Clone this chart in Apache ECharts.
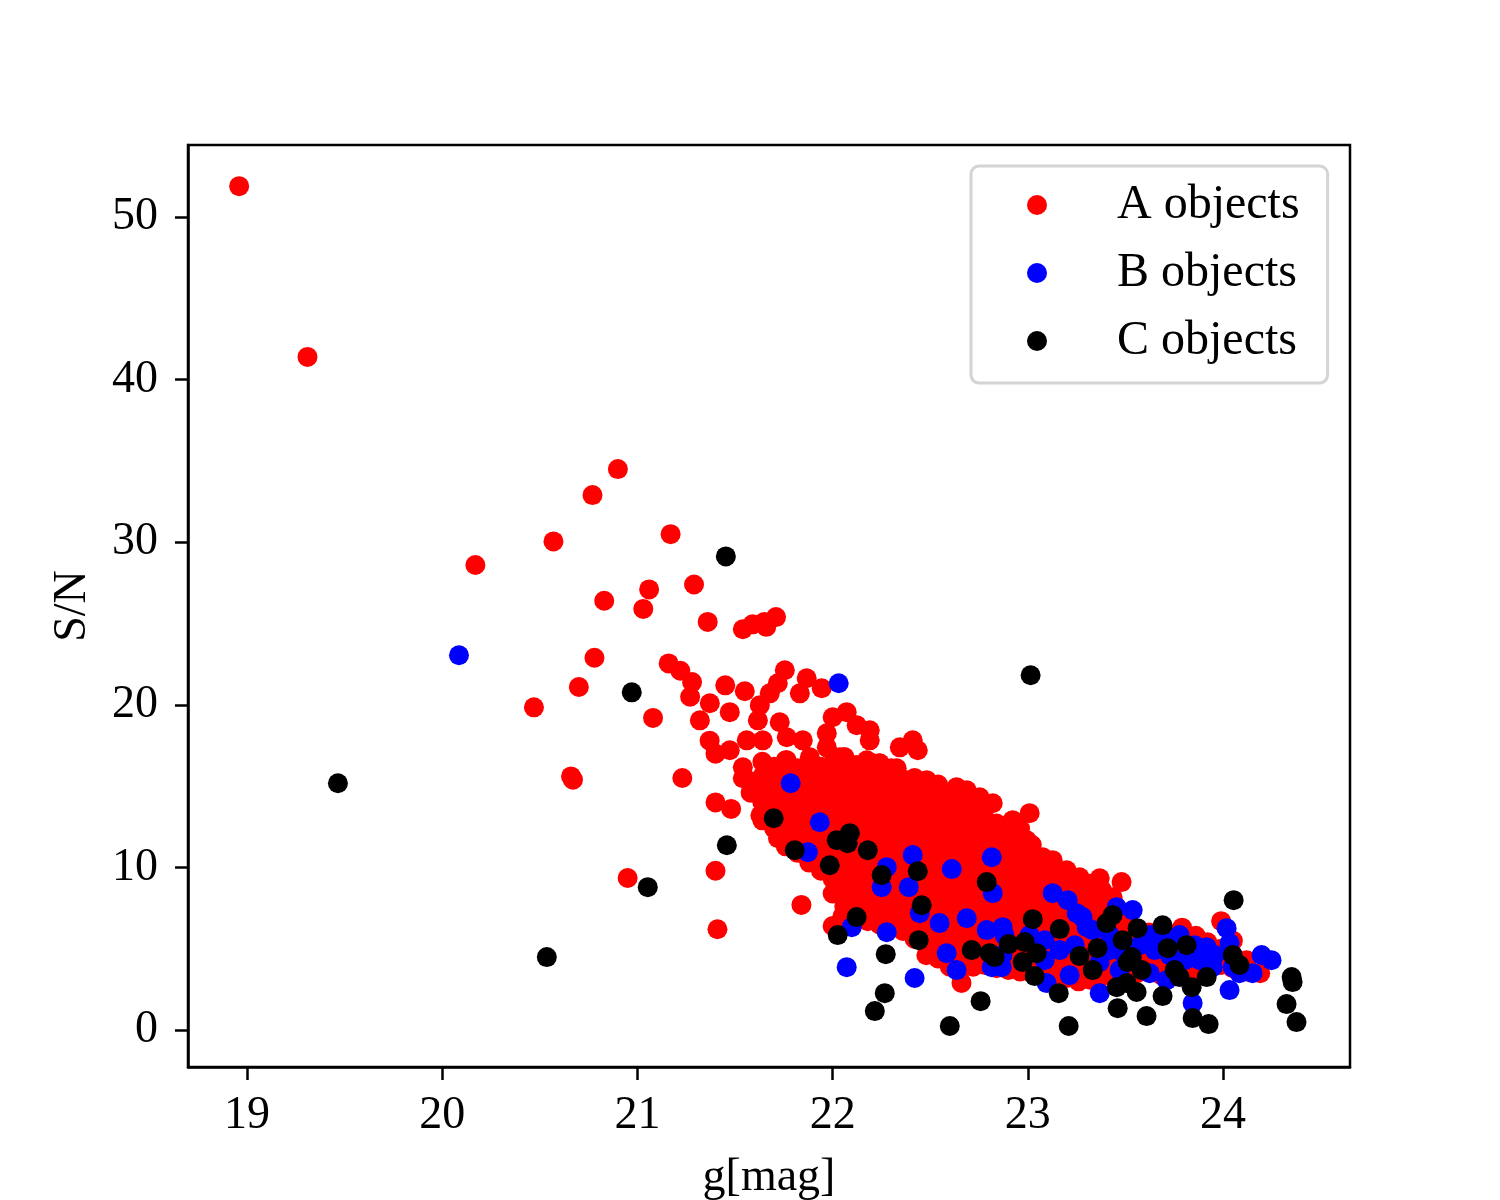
<!DOCTYPE html>
<html>
<head>
<meta charset="utf-8">
<title>S/N vs g</title>
<script src="https://cdn.jsdelivr.net/npm/echarts/dist/echarts.min.js"></script>
<style>
  html, body { margin: 0; padding: 0; background: #fff; }
  #chart { width: 1500px; height: 1200px; }
</style>
</head>
<body>
<div id="chart"></div>
<script>
// axis ticks
var xTicks = [19, 20, 21, 22, 23, 24];
var yTicks = [0, 10, 20, 30, 40, 50];
var seriesNames = ['A objects', 'B objects', 'C objects'];

// A objects: [g, S/N]
var aObjects = [
  [18.96,51.9],[19.31,41.4],[20.90,34.5],[20.77,32.9],[20.57,30.05],[20.17,28.6],[21.17,30.5],
  [21.29,27.4],[21.06,27.1],[20.83,26.4],[21.03,25.9],[21.36,25.1],[20.78,22.9],[20.70,21.1],
  [20.47,19.85],[21.16,22.55],[21.22,22.1],[21.28,21.4],[21.27,20.5],[21.08,19.2],[20.66,15.6],
  [20.67,15.4],[21.23,15.5],[20.95,9.35],[21.40,9.8],[21.41,6.2],[21.40,14.0],[21.48,13.6],
  [21.37,17.8],[21.40,17.0],[21.45,21.2],[21.54,24.65],[21.59,24.95],[21.65,25.1],[21.71,25.4],
  [21.66,24.8],[21.84,7.7],[21.72,11.8],[21.63,13.2],
  [21.755,22.13],[21.867,21.64],[21.944,21.02],[21.55,20.84],[21.371,20.1],[21.473,19.55],
  [21.32,19.05],[21.627,19.98],[21.678,20.71],[21.719,21.33],[21.832,20.71],[21.617,19.05],
  [21.729,18.93],[22.0,19.24],[22.072,19.55],[22.123,18.75],[22.19,18.44],[22.19,17.82],
  [22.344,17.39],[22.41,17.82],[22.436,17.21],[21.473,17.21],[21.56,17.82],[21.642,17.82],
  [21.765,18.01],[21.847,17.82],[21.97,18.25],[21.97,17.39],[22.036,16.78],[22.175,16.59],
  [22.205,16.41],[22.328,16.1],[21.54,16.16],[21.54,15.49],[21.663,15.55],[21.765,16.59],
  [21.883,16.78],[21.883,15.55],[22.0,15.8],[22.088,15.55],[22.19,15.18],[22.277,15.37],
  [22.38,15.37],[22.482,15.37],[22.635,14.94],[22.687,14.75],[22.753,14.32],[22.82,13.95],
  [23.009,13.34],[22.922,12.91],[21.693,14.14],[21.796,14.32],[21.918,14.57],[22.036,14.57],
  [22.139,14.32],[22.205,13.71],[22.292,14.32],[22.41,14.14],[22.513,14.14],[22.6,13.71],
  [22.687,13.34],[22.769,13.09],[22.856,12.48],[22.241,16.41],[22.666,14.63],[22.994,11.68],
  [23.076,10.63],[23.127,10.45],[23.199,9.83],[23.265,9.4],[23.368,9.34],[23.48,9.1],[23.434,8.17],
  [22.0,6.4],[22.05,7.0],
  [21.58,14.6],[21.58,15.3],
  [21.64,12.9],[21.64,14.0],[21.64,14.8],[21.64,15.6],[21.64,16.5],
  [21.70,12.4],[21.70,13.5],[21.70,14.6],[21.70,15.4],[21.70,16.2],
  [21.76,11.3],[21.76,12.2],[21.76,13.1],[21.76,14.0],[21.76,14.9],[21.76,15.8],[21.76,16.6],
  [21.82,10.9],[21.82,11.9],[21.82,12.8],[21.82,13.7],[21.82,14.6],[21.82,15.3],[21.82,16.1],
  [21.88,10.3],[21.88,11.2],[21.88,12.1],[21.88,13.0],[21.88,13.9],[21.88,14.9],[21.88,16.0],
  [21.94,9.8],[21.94,10.8],[21.94,11.7],[21.94,12.6],[21.94,13.5],[21.94,14.3],[21.94,15.2],[21.94,16.2],
  [22.00,8.4],[22.00,9.3],[22.00,10.3],[22.00,11.2],[22.00,12.1],[22.00,13.0],[22.00,13.9],[22.00,14.8],[22.00,15.6],[22.00,16.4],
  [22.06,7.6],[22.06,8.6],[22.06,9.7],[22.06,10.6],[22.06,11.5],[22.06,12.4],[22.06,13.3],[22.06,14.2],[22.06,15.0],[22.06,15.9],[22.06,16.8],
  [22.12,7.2],[22.12,8.1],[22.12,9.1],[22.12,10.1],[22.12,11.0],[22.12,11.9],[22.12,12.8],[22.12,13.7],[22.12,14.6],[22.12,15.5],[22.12,16.3],
  [22.18,6.7],[22.18,7.6],[22.18,8.6],[22.18,9.5],[22.18,10.5],[22.18,11.4],[22.18,12.3],[22.18,13.2],[22.18,14.1],[22.18,15.0],[22.18,15.9],
  [22.24,6.5],[22.24,7.4],[22.24,8.3],[22.24,9.2],[22.24,10.2],[22.24,11.1],[22.24,12.0],[22.24,12.9],[22.24,13.8],[22.24,14.7],[22.24,15.6],[22.24,16.4],
  [22.30,6.3],[22.30,7.2],[22.30,8.1],[22.30,9.0],[22.30,9.9],[22.30,10.8],[22.30,11.7],[22.30,12.6],[22.30,13.5],[22.30,14.4],[22.30,15.3],[22.30,16.1],
  [22.36,6.1],[22.36,6.9],[22.36,7.9],[22.36,8.8],[22.36,9.7],[22.36,10.6],[22.36,11.5],[22.36,12.4],[22.36,13.3],[22.36,14.2],[22.36,15.0],
  [22.42,5.6],[22.42,6.5],[22.42,7.5],[22.42,8.4],[22.42,9.3],[22.42,10.2],[22.42,11.1],[22.42,12.0],[22.42,12.9],[22.42,13.8],[22.42,14.7],[22.42,15.5],
  [22.48,4.6],[22.48,5.5],[22.48,6.4],[22.48,7.3],[22.48,8.2],[22.48,9.1],[22.48,10.0],[22.48,10.9],[22.48,11.8],[22.48,12.7],[22.48,13.6],[22.48,14.5],[22.48,15.2],
  [22.54,4.4],[22.54,5.3],[22.54,6.2],[22.54,7.1],[22.54,8.0],[22.54,8.9],[22.54,9.8],[22.54,10.7],[22.54,11.6],[22.54,12.5],[22.54,13.4],[22.54,14.3],[22.54,15.1],
  [22.60,3.9],[22.60,4.8],[22.60,5.7],[22.60,6.6],[22.60,7.5],[22.60,8.4],[22.60,9.3],[22.60,10.2],[22.60,11.1],[22.60,12.0],[22.60,12.9],[22.60,13.8],[22.60,14.6],
  [22.66,2.9],[22.66,3.8],[22.66,4.7],[22.66,5.6],[22.66,6.5],[22.66,7.4],[22.66,8.3],[22.66,9.2],[22.66,10.1],[22.66,11.0],[22.66,11.9],[22.66,12.8],[22.66,13.7],[22.66,14.4],
  [22.72,3.9],[22.72,4.8],[22.72,5.7],[22.72,6.6],[22.72,7.5],[22.72,8.4],[22.72,9.3],[22.72,10.2],[22.72,11.1],[22.72,12.0],[22.72,12.9],[22.72,13.8],
  [22.78,4.0],[22.78,4.9],[22.78,5.8],[22.78,6.7],[22.78,7.6],[22.78,8.5],[22.78,9.4],[22.78,10.3],[22.78,11.2],[22.78,12.1],[22.78,13.0],[22.78,13.7],
  [22.84,3.8],[22.84,4.7],[22.84,5.6],[22.84,6.5],[22.84,7.4],[22.84,8.3],[22.84,9.2],[22.84,10.1],[22.84,11.0],[22.84,11.9],[22.84,12.7],
  [22.90,3.7],[22.90,4.6],[22.90,5.5],[22.90,6.4],[22.90,7.3],[22.90,8.2],[22.90,9.1],[22.90,10.0],[22.90,10.9],[22.90,11.8],[22.90,12.6],
  [22.96,3.6],[22.96,4.5],[22.96,5.4],[22.96,6.3],[22.96,7.2],[22.96,8.1],[22.96,9.0],[22.96,9.9],[22.96,10.8],[22.96,11.7],[22.96,12.4],
  [23.02,3.5],[23.02,4.4],[23.02,5.3],[23.02,6.2],[23.02,7.1],[23.02,8.0],[23.02,8.9],[23.02,9.8],[23.02,10.6],[23.02,11.4],
  [23.08,3.6],[23.08,4.5],[23.08,5.4],[23.08,6.3],[23.08,7.2],[23.08,8.1],[23.08,9.0],[23.08,9.9],[23.08,10.4],
  [23.14,3.4],[23.14,4.3],[23.14,5.2],[23.14,6.1],[23.14,7.0],[23.14,7.9],[23.14,8.8],[23.14,9.7],
  [23.20,3.2],[23.20,4.1],[23.20,5.0],[23.20,5.9],[23.20,6.8],[23.20,7.7],[23.20,8.6],[23.20,9.5],
  [23.26,3.0],[23.26,3.9],[23.26,4.8],[23.26,5.7],[23.26,6.6],[23.26,7.5],[23.26,8.4],[23.26,9.2],
  [23.32,3.1],[23.32,4.0],[23.32,4.9],[23.32,5.8],[23.32,6.7],[23.32,7.6],[23.32,8.5],[23.32,9.0],
  [23.38,3.3],[23.38,4.2],[23.38,5.1],[23.38,6.0],[23.38,6.9],[23.38,7.8],[23.38,8.6],
  [23.44,3.4],[23.44,4.3],[23.44,5.2],[23.44,6.1],[23.44,7.0],[23.44,7.8],
  [23.50,3.2],[23.50,4.1],[23.50,5.0],[23.50,5.9],[23.50,6.7],
  [23.56,3.5],[23.56,4.4],[23.56,5.3],[23.56,6.2],
  [23.62,3.6],[23.62,4.5],[23.62,5.4],[23.62,6.0],
  [23.68,3.4],[23.68,4.3],[23.68,5.2],[23.68,5.9],
  [23.74,3.3],[23.74,4.2],[23.74,5.1],[23.74,5.8],
  [23.79,4.0],[23.79,5.0],[23.79,6.3],
  [23.86,3.5],[23.86,4.4],[23.86,5.3],[23.86,5.8],
  [23.92,3.6],[23.92,4.5],[23.92,5.4],
  [23.99,4.0],[23.99,5.0],[23.99,6.7],
  [24.05,3.8],[24.05,4.6],[24.05,5.5],
  [24.12,3.6],[24.12,4.3],
  [24.19,3.5]
];

// B objects: [g, S/N]
var bObjects = [
  [20.086,23.05],[22.031,21.33],[21.785,15.18],[21.934,12.78],[21.873,10.94],[22.277,10.02],
  [22.251,8.79],[22.41,10.76],[22.61,9.9],[22.815,10.63],[22.82,8.42],[22.39,8.79],[22.446,7.19],
  [22.098,6.33],[22.277,6.02],[22.548,6.58],[22.687,6.88],[22.072,3.87],[22.42,3.2],[22.584,4.73],
  [22.635,3.69],[22.789,6.15],[22.871,6.33],[22.815,3.87],[23.096,2.89],[23.214,3.38],[23.127,8.42],
  [23.204,7.99],[23.25,7.19],[23.301,6.33],[23.455,7.56],[23.537,7.38],[23.28,6.95],[23.332,6.15],
  [24.018,6.27],[24.033,5.35],[24.197,4.61],[24.248,4.3],[24.151,3.5],[24.033,2.46],[23.916,5.1],
  [23.624,3.5],[23.711,3.07],[23.946,3.87],[24.049,3.87],[24.084,3.5],[23.368,2.27],[23.844,1.66],
  [22.866,3.87],[23.42,4.92],[23.496,4.61],[23.573,5.22],[23.65,4.92],[23.726,4.61],[23.803,4.3],
  [23.88,4.3],[23.957,4.61],[23.368,4.18],[23.47,3.69],[23.163,4.92],[23.24,5.22],[23.086,4.3],
  [23.624,5.84],[23.7,5.53],[23.777,5.84],[23.854,5.22],[23.009,5.84],[23.086,5.53],[23.419,5.84],
  [22.88,5.84],[22.87,4.61]
];

// C objects: [g, S/N]
var cObjects = [
  [19.466,15.18],[20.536,4.49],[20.971,20.77],[21.053,8.79],[21.453,29.13],[21.458,11.37],
  [23.014,21.82],[21.698,13.03],[24.054,7.99],[21.806,11.06],[22.021,11.68],[22.088,12.11],
  [22.077,11.49],[22.18,11.06],[21.985,10.14],[22.251,9.53],[22.436,9.77],[22.456,7.68],
  [22.789,9.1],[22.123,6.95],[22.026,5.84],[22.272,4.67],[22.216,1.17],[22.267,2.27],
  [22.441,5.53],[22.6,0.25],[22.758,1.78],[22.712,4.92],[22.804,4.73],[22.83,4.49],[22.902,5.29],
  [22.984,5.41],[23.025,6.82],[23.045,4.73],[22.973,4.18],[23.035,3.32],[23.158,2.27],
  [23.163,6.21],[23.209,0.25],[23.265,4.55],[23.332,3.69],[23.357,5.04],[23.434,7.07],
  [23.403,6.58],[23.562,6.27],[23.69,6.45],[23.485,5.53],[23.532,4.49],[23.511,4.18],
  [23.583,3.69],[23.455,2.64],[23.506,2.89],[23.557,2.34],[23.46,1.35],[23.608,0.86],
  [23.69,2.09],[23.752,3.69],[23.777,3.26],[23.839,2.64],[23.916,3.26],[23.844,0.74],
  [23.926,0.37],[23.813,5.22],[23.716,5.04],[24.049,4.61],[24.084,4.0],[24.351,3.26],
  [24.356,2.95],[24.325,1.6],[24.376,0.49]
];

var font = 'Liberation Serif';
var chart = echarts.init(document.getElementById('chart'), null, { renderer: 'canvas' });

function axisCommon(ticks) {
  return {
    type: 'value',
    splitLine: { show: false },
    axisLine: { show: true, onZero: false, lineStyle: { color: '#000', width: 2.5 } },
    axisTick: { show: true, inside: false, length: 13, customValues: ticks,
                lineStyle: { color: '#000', width: 2.5 } },
    axisLabel: { customValues: ticks, color: '#000', fontFamily: font, fontSize: 46 },
    nameLocation: 'middle',
    nameTextStyle: { color: '#000', fontFamily: font, fontSize: 46 }
  };
}

var xAxis = axisCommon(xTicks);
xAxis.min = 18.698;
xAxis.max = 24.65;
xAxis.name = 'g[mag]';
xAxis.nameGap = 88;
xAxis.axisLabel.margin = 26;

var yAxis = axisCommon(yTicks);
yAxis.min = -2.27;
yAxis.max = 54.43;
yAxis.name = 'S/N';
yAxis.nameGap = 92;
yAxis.axisLabel.margin = 30;

var colors = ['#ff0000', '#0000ff', '#000000'];
var datasets = [aObjects, bObjects, cObjects];

chart.setOption({
  animation: false,
  backgroundColor: '#fff',
  grid: { left: 188, right: 150, top: 145, bottom: 133, show: true,
          outerBoundsMode: 'none', containLabel: false,
          borderColor: '#000', borderWidth: 2.5, backgroundColor: 'transparent' },
  xAxis: xAxis,
  yAxis: yAxis,
  legend: {
    data: seriesNames,
    orient: 'vertical',
    left: 971,
    top: 166,
    icon: 'circle',
    itemWidth: 20,
    itemHeight: 20,
    itemGap: 18,
    padding: [14, 28, 17, 56],
    backgroundColor: '#fff',
    borderColor: '#d4d4d4',
    borderWidth: 3,
    borderRadius: 8,
    textStyle: { color: '#000', fontFamily: font, fontSize: 48, lineHeight: 50,
                 padding: [0, 0, 0, 65] }
  },
  series: seriesNames.map(function (name, i) {
    return {
      name: name,
      type: 'scatter',
      data: datasets[i],
      symbol: 'circle',
      symbolSize: 20,
      itemStyle: { color: colors[i], opacity: 1 },
      emphasis: { disabled: true },
      z: 2 + i
    };
  })
});
</script>
</body>
</html>
